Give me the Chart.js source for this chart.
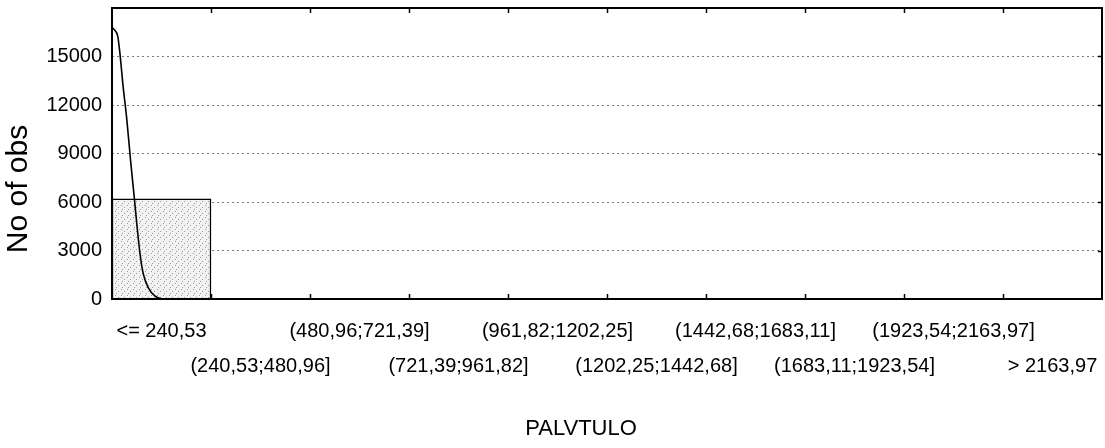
<!DOCTYPE html>
<html>
<head>
<meta charset="utf-8">
<script src="https://cdn.jsdelivr.net/npm/chart.js@4/dist/chart.umd.min.js"></script>
<style>
  body { margin: 0; background: #fff; }
  canvas { display: block; }
</style>
</head>
<body>
<canvas id="hist" width="1105" height="448"></canvas>
<script>
// Histogram bins (category labels) and counts
const binLabels = [
    '<= 240,53', '(240,53;480,96]', '(480,96;721,39]', '(721,39;961,82]',
    '(961,82;1202,25]', '(1202,25;1442,68]', '(1442,68;1683,11]',
    '(1683,11;1923,54]', '(1923,54;2163,97]', '> 2163,97'
];
const binCounts = [6200, 0, 0, 0, 0, 0, 0, 0, 0, 0];

// Fitted normal curve (x in PALVTULO units)
const curveX = [0, 6, 14, 19, 27, 36, 45, 54, 61, 68, 76, 88, 104, 121, 140, 2404.3];
const curveY = [16800, 16650, 16250, 15250, 13150, 11100, 8600, 6300, 4450, 2800, 1550, 700, 190, 20, 0, 0];

// Y axis ticks
const yMax = 18000;
const yStep = 3000;

// Axis titles
const xTitle = 'PALVTULO';
const yTitle = 'No of obs';

const FONT = "'Liberation Sans', Arial, sans-serif";

// Light stipple fill for the bar
function stipple() {
    const c = document.createElement('canvas');
    c.width = 6;
    c.height = 6;
    const g = c.getContext('2d');
    g.fillStyle = '#f2f2f2';
    g.fillRect(0, 0, 6, 6);
    g.fillStyle = '#9a9a9a';
    g.fillRect(1, 1, 1, 1);
    g.fillRect(4, 3, 1, 1);
    g.fillRect(2, 5, 1, 1);
    return g.createPattern(c, 'repeat');
}

// Frame + inward tick marks like the original plot
const framePlugin = {
    id: 'frame',
    afterDraw(chart) {
        const ctx = chart.ctx;
        const area = chart.chartArea;
        const x = chart.scales.x;
        const y = chart.scales.y;
        ctx.save();
        ctx.strokeStyle = '#000';
        ctx.lineWidth = 1.5;
        const half = (x.getPixelForValue(1) - x.getPixelForValue(0)) / 2;
        for (let i = 1; i < binLabels.length; i++) {
            const px = Math.round(x.getPixelForValue(i) - half) + 0.5;
            ctx.beginPath();
            ctx.moveTo(px, area.top);
            ctx.lineTo(px, area.top + 5);
            ctx.moveTo(px, area.bottom);
            ctx.lineTo(px, area.bottom - 5);
            ctx.stroke();
        }
        for (let v = yStep; v < yMax; v += yStep) {
            const py = Math.round(y.getPixelForValue(v)) + 0.5;
            ctx.beginPath();
            ctx.moveTo(area.right, py);
            ctx.lineTo(area.right - 4, py);
            ctx.stroke();
        }
        ctx.lineWidth = 2;
        ctx.strokeRect(area.left, area.top, area.right - area.left, area.bottom - area.top);
        ctx.restore();
    }
};

// Axis titles sit off-centre in the original, so place them by hand
const titlePlugin = {
    id: 'axisTitles',
    afterDraw(chart) {
        const ctx = chart.ctx;
        const area = chart.chartArea;
        ctx.save();
        ctx.fillStyle = '#000';
        ctx.textAlign = 'center';
        ctx.textBaseline = 'middle';
        ctx.font = `22px ${FONT}`;
        ctx.fillText(xTitle, area.left + 469, chart.height - 19);
        ctx.translate(19, area.top + 181);
        ctx.rotate(-Math.PI / 2);
        ctx.font = `30px ${FONT}`;
        ctx.fillText(yTitle, 0, 0);
        ctx.restore();
    }
};

const ctx = document.getElementById('hist').getContext('2d');

new Chart(ctx, {
    type: 'bar',
    data: {
        labels: binLabels,
        datasets: [{
            type: 'line',
            data: curveX.map((v, i) => ({ x: v, y: curveY[i] })),
            xAxisID: 'xv',
            yAxisID: 'y',
            borderColor: '#000',
            borderWidth: 1.6,
            pointRadius: 0,
            cubicInterpolationMode: 'monotone',
            order: 0
        }, {
            type: 'bar',
            data: binCounts,
            xAxisID: 'x',
            yAxisID: 'y',
            backgroundColor: stipple(),
            borderColor: '#000',
            borderWidth: 1.5,
            categoryPercentage: 1,
            barPercentage: 1,
            grouped: false,
            order: 1
        }]
    },
    options: {
        responsive: false,
        devicePixelRatio: 1,
        animation: false,
        layout: { padding: { left: 0, right: 3, top: 8, bottom: 0 } },
        plugins: {
            legend: { display: false },
            tooltip: { enabled: false }
        },
        scales: {
            x: {
                type: 'category',
                offset: true,
                grid: { display: false, drawTicks: false },
                border: { display: false },
                ticks: {
                    color: '#000',
                    font: { family: FONT, size: 20, lineHeight: 1.75 },
                    maxRotation: 0,
                    autoSkip: false,
                    padding: 15,
                    callback: (v, i) => i % 2 === 0 ? [binLabels[i], ''] : ['', binLabels[i]]
                },
                afterFit: scale => {
                    scale.height = 149;
                    scale.paddingLeft = 0;
                    scale.paddingRight = 0;
                }
            },
            xv: {
                type: 'linear',
                display: false,
                offset: false,
                grid: { offset: false },
                min: 0,
                max: 2404.3
            },
            y: {
                min: 0,
                max: yMax,
                border: { display: false, dash: [2, 3] },
                grid: {
                    drawTicks: false,
                    color: c => (c.tick.value === 0 || c.tick.value === yMax) ? 'rgba(0,0,0,0)' : '#7a7a7a',
                    lineWidth: 1
                },
                ticks: {
                    stepSize: yStep,
                    color: '#000',
                    font: { family: FONT, size: 20 },
                    padding: 10,
                    callback: v => v === yMax ? '' : v
                },
                afterFit: scale => {
                    scale.width = 112;
                    scale.paddingTop = 0;
                    scale.paddingBottom = 0;
                }
            }
        }
    },
    plugins: [framePlugin, titlePlugin]
});
</script>
</body>
</html>
